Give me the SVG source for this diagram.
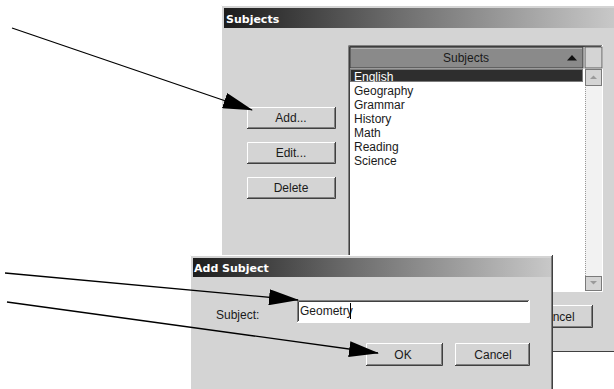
<svg xmlns="http://www.w3.org/2000/svg" width="614" height="389" viewBox="0 0 614 389">
  <defs>
    <linearGradient id="titleGrad" x1="0" y1="0" x2="1" y2="0">
      <stop offset="0" stop-color="#1c1c1c"/>
      <stop offset="0.45" stop-color="#6e6e6e"/>
      <stop offset="1" stop-color="#c8c8c8"/>
    </linearGradient>
    <marker id="arrowHead" markerUnits="userSpaceOnUse" viewBox="0 0 30 16" refX="29" refY="8" markerWidth="30" markerHeight="16" orient="auto">
      <path d="M0,0 L30,8 L0,16 Z" fill="#000"/>
    </marker>
    <style>
      .face { fill: #d4d4d4; }
      .hi { fill: none; stroke: #ffffff; stroke-width: 1; }
      .sh { fill: none; stroke: #808080; stroke-width: 1; }
      .dk { fill: none; stroke: #404040; stroke-width: 1; }
      .ui { font-family: "Liberation Sans", Arial, sans-serif; font-size: 12px; fill: #1a1a1a; }
      .cap { font-family: "DejaVu Sans", Verdana, sans-serif; font-size: 11px; font-weight: bold; fill: #ffffff; }
      .mid { text-anchor: middle; }
      .link { fill: none; stroke: #000; stroke-width: 1.3; marker-end: url(#arrowHead); }
    </style>
  </defs>

  <rect x="0" y="0" width="614" height="389" fill="#ffffff"/>

  <!-- Subjects window -->
  <g id="subjects-window">
    <rect class="face" x="221" y="5" width="393" height="347"/>
    <polyline class="hi" points="221.5,352 221.5,5.5 614,5.5"/>
    <line class="dk" x1="221" y1="351.5" x2="614" y2="351.5"/>
    <rect x="224" y="8" width="390" height="20" fill="url(#titleGrad)"/>
    <text class="cap" x="226" y="23">Subjects</text>

    <!-- list box -->
    <rect x="348" y="45" width="254" height="246" fill="#ffffff"/>
    <polyline class="sh" points="348.5,291 348.5,45.5 602,45.5"/>
    <polyline class="dk" points="349.5,290 349.5,46.5 601,46.5"/>
    <polyline class="hi" points="348,291.5 602.5,291.5 602.5,45"/>

    <!-- column header -->
    <rect x="350" y="47" width="233" height="21" fill="#8a8a8a" stroke="#3a3a3a" stroke-width="1"/>
    <line x1="351" y1="48.5" x2="582" y2="48.5" stroke="#b0b0b0"/>
    <text class="ui mid" x="466" y="62">Subjects</text>
    <polygon points="567,60.5 577,60.5 572,55" fill="#111"/>
    <rect x="585" y="47" width="17" height="21" fill="#d4d4d4" stroke="#5a5a5a" stroke-width="1"/>

    <!-- scroll bar -->
    <rect x="585" y="69" width="17" height="208" fill="#f2f2f2"/>
    <line x1="585.5" y1="69" x2="585.5" y2="290" stroke="#9a9a9a" stroke-dasharray="1,1"/>
    <rect x="585.5" y="69.5" width="16" height="16" fill="#d4d4d4" stroke="#7a7a7a"/>
    <polygon points="590,79 597,79 593.5,75.5" fill="#9a9a9a"/>
    <rect x="585.5" y="276.5" width="16" height="14" fill="#d4d4d4" stroke="#7a7a7a"/>
    <polygon points="590,281 597,281 593.5,284.5" fill="#9a9a9a"/>

    <!-- items -->
    <rect x="350" y="69" width="233" height="13" fill="#2e2e2e"/>
    <rect x="350.5" y="69.5" width="232" height="12" fill="none" stroke="#c8c8c8" stroke-dasharray="1,1"/>
    <text class="ui" x="354" y="80.5" fill="#ffffff" style="fill:#ffffff">English</text>
    <text class="ui" x="354" y="94.5">Geography</text>
    <text class="ui" x="354" y="108.5">Grammar</text>
    <text class="ui" x="354" y="122.5">History</text>
    <text class="ui" x="354" y="136.5">Math</text>
    <text class="ui" x="354" y="150.5">Reading</text>
    <text class="ui" x="354" y="164.5">Science</text>

    <!-- Cancel button of the window -->
    <rect class="face" x="520" y="305" width="73" height="23"/>
    <polyline class="hi" points="520.5,327 520.5,305.5 592,305.5"/>
    <polyline class="sh" points="521,326.5 591.5,326.5 591.5,306"/>
    <polyline class="dk" points="520,327.5 592.5,327.5 592.5,305"/>
    <text class="ui mid" x="556" y="321">Cancel</text>
  </g>

  <!-- Add... button -->
  <g id="btn-add">
    <rect class="face" x="247" y="107" width="89" height="22"/>
    <polyline class="hi" points="247.5,128 247.5,107.5 335,107.5"/>
    <polyline class="sh" points="248,127.5 334.5,127.5 334.5,108"/>
    <polyline class="dk" points="247,128.5 335.5,128.5 335.5,107"/>
    <text class="ui mid" x="291" y="122">Add...</text>
  </g>

  <!-- Edit... button -->
  <g id="btn-edit">
    <rect class="face" x="247" y="142" width="89" height="22"/>
    <polyline class="hi" points="247.5,163 247.5,142.5 335,142.5"/>
    <polyline class="sh" points="248,162.5 334.5,162.5 334.5,143"/>
    <polyline class="dk" points="247,163.5 335.5,163.5 335.5,142"/>
    <text class="ui mid" x="291" y="157">Edit...</text>
  </g>

  <!-- Delete button -->
  <g id="btn-delete">
    <rect class="face" x="247" y="177" width="89" height="22"/>
    <polyline class="hi" points="247.5,198 247.5,177.5 335,177.5"/>
    <polyline class="sh" points="248,197.5 334.5,197.5 334.5,178"/>
    <polyline class="dk" points="247,198.5 335.5,198.5 335.5,177"/>
    <text class="ui mid" x="291" y="192">Delete</text>
  </g>

  <!-- Add Subject dialog -->
  <g id="add-subject-dialog">
    <rect class="face" x="190" y="255" width="363" height="134"/>
    <polyline class="hi" points="190.5,389 190.5,255.5 552,255.5"/>
    <line class="sh" x1="551.5" y1="256" x2="551.5" y2="389"/>
    <line class="dk" x1="552.5" y1="255" x2="552.5" y2="389"/>
    <rect x="193" y="258" width="358" height="19" fill="url(#titleGrad)"/>
    <text class="cap" x="194" y="272">Add Subject</text>

    <text class="ui" x="216" y="319">Subject:</text>

    <!-- text field -->
    <rect x="297" y="300" width="232" height="22" fill="#ffffff"/>
    <polyline class="sh" points="297.5,322 297.5,300.5 529,300.5"/>
    <polyline class="dk" points="298.5,321 298.5,301.5 528,301.5"/>
    <polyline class="hi" points="297,322.5 529.5,322.5 529.5,300"/>
    <text class="ui" x="300" y="315">Geometry</text>
    <line x1="350.5" y1="303" x2="350.5" y2="319" stroke="#000" stroke-width="1"/>
  </g>

  <!-- OK button -->
  <g id="btn-ok">
    <rect class="face" x="366" y="343" width="77" height="23"/>
    <polyline class="hi" points="366.5,365 366.5,343.5 442,343.5"/>
    <polyline class="sh" points="367,364.5 441.5,364.5 441.5,344"/>
    <polyline class="dk" points="366,365.5 442.5,365.5 442.5,343"/>
    <text class="ui mid" x="403" y="359">OK</text>
  </g>

  <!-- Cancel button -->
  <g id="btn-cancel">
    <rect class="face" x="455" y="343" width="75" height="23"/>
    <polyline class="hi" points="455.5,365 455.5,343.5 529,343.5"/>
    <polyline class="sh" points="456,364.5 528.5,364.5 528.5,344"/>
    <polyline class="dk" points="455,365.5 529.5,365.5 529.5,343"/>
    <text class="ui mid" x="493" y="359">Cancel</text>
  </g>

  <!-- pointer arrows -->
  <g id="connectors">
    <line class="link" x1="12" y1="28" x2="252" y2="110"/>
    <line class="link" x1="5" y1="273" x2="298" y2="300"/>
    <line class="link" x1="7" y1="302" x2="378" y2="353"/>
  </g>
</svg>
